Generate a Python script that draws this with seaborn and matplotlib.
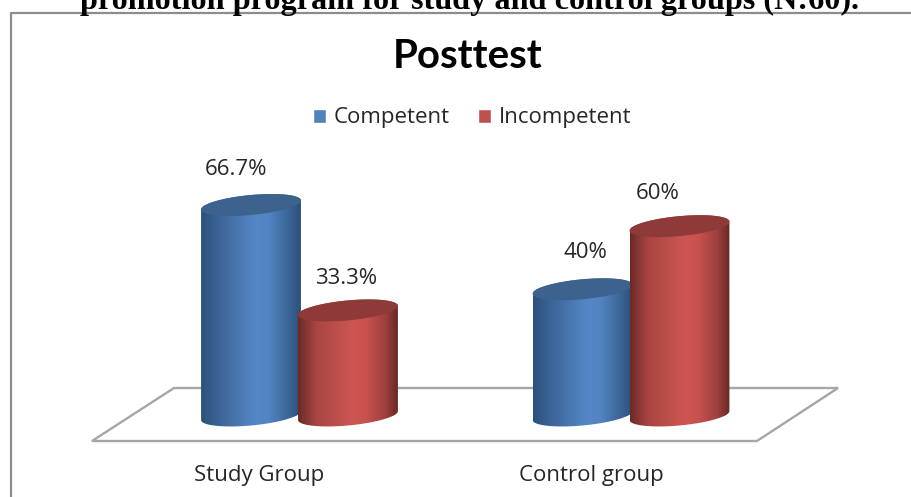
import numpy as np
import pandas as pd
import matplotlib
matplotlib.use("Agg")
import matplotlib.pyplot as plt
from matplotlib.colors import LinearSegmentedColormap
from matplotlib.patches import PathPatch, Polygon
from matplotlib.path import Path
from matplotlib.transforms import ScaledTranslation
import seaborn as sns

# Chart values
groups = ["Study Group", "Control group"]
levels = ["Competent", "Incompetent"]
competent = [66.7, 40]
incompetent = [33.3, 60]
value_labels = {66.7: "66.7%", 33.3: "33.3%", 40: "40%", 60: "60%"}

W, H = 911, 497
sns.set_theme(style="white")
plt.rcParams["font.family"] = ["Open Sans", "DejaVu Sans"]

fig = plt.figure(figsize=(W / 100, H / 100), dpi=100)

# Axes span the floor of the chart, in pixels of the figure
ax_l, ax_r, ax_b, ax_t = 92, 838, 441, 150
ax = fig.add_axes([ax_l / W, 1 - ax_b / H, (ax_r - ax_l) / W, (ax_b - ax_t) / H])

df = pd.DataFrame({
    "group": groups * 2,
    "level": [levels[0]] * 2 + [levels[1]] * 2,
    "value": competent + incompetent,
})
sns.barplot(data=df, x="group", y="value", hue="level", order=groups, hue_order=levels,
            palette=["#4f81bd", "#c0504d"], width=0.585, gap=0, saturation=1, ax=ax)

px_x, px_y = 331.5, 3.156   # pixels per data unit
x0_px, y0_px = 299.5, 415.5 # pixel position of the first group at value 0
xlim = ((ax_l - x0_px) / px_x, (ax_r - x0_px) / px_x)
ylim = ((y0_px - ax_b) / px_y, (y0_px - ax_t) / px_y)
ax.set_xlim(xlim)
ax.set_ylim(ylim)
for s in ax.spines.values():
    s.set_visible(False)
ax.set_xlabel("")
ax.set_ylabel("")
ax.set_yticks([])
ax.tick_params(axis="x", length=0, pad=17, labelsize=16, labelcolor="#262626")
shift = ScaledTranslation(-40 / 100, 0, fig.dpi_scale_trans)
for lab in ax.get_xticklabels():
    lab.set_transform(lab.get_transform() + shift)

# Floor of the chart
floor = Polygon([(0, 0), ((757 - ax_l) / (ax_r - ax_l), 0),
                 (1, (ax_b - 388) / (ax_b - ax_t)), ((174 - ax_l) / (ax_r - ax_l), (ax_b - 388) / (ax_b - ax_t))],
                closed=True, transform=ax.transAxes, fc="white", ec="#a6a6a6", lw=1.7,
                zorder=1, clip_on=False)
ax.add_patch(floor)

shades = {
    "#4f81bd": (["#2c5079", "#3c6597", "#5587c8", "#5283c2", "#3a6496", "#2d4f78"], "#3c628e"),
    "#c0504d": (["#6a2a28", "#a84543", "#cd5653", "#c9524f", "#9c3f3d", "#682826"], "#8e3a38"),
}
stops = [0, 0.18, 0.55, 0.68, 0.88, 1]

tilt = 4.5 / px_y   # rise of the ellipse towards its right side
minor = 10 / px_y   # half height of the ellipse
t = np.linspace(0, 2 * np.pi, 181)


def ring(cx, a, y):
    return cx + a * np.cos(t), y + minor * np.sin(t) + tilt * np.cos(t)


# Offsets of the value labels from the top of their bar, in pixels
label_offsets = [(-15, 35.5), (3, 36.5), (-2, 31.5), (-22, 33)]

bars = [p for p in ax.patches if p is not floor and p.get_height() > 0]
for i, bar in enumerate(bars):
    cx = bar.get_x() + bar.get_width() / 2
    a = bar.get_width() / 2 * 1.03
    h = bar.get_height()
    hexcol = matplotlib.colors.to_hex(bar.get_facecolor())
    side, lid = shades[hexcol]
    z = 3 + i

    # Side of the cylinder: lower half of the base ring, then the upper lid ring
    low = t[t >= np.pi]
    up = t[t <= np.pi]
    xs = np.r_[cx + a * np.cos(low), cx + a * np.cos(up)]
    ys = np.r_[minor * np.sin(low) + tilt * np.cos(low),
               h + minor * np.sin(up) + tilt * np.cos(up)]
    body = PathPatch(Path(np.c_[xs, ys]), fc="none", ec="none", transform=ax.transData)
    ax.add_patch(body)
    body.set_zorder(z)

    cmap = LinearSegmentedColormap.from_list("side", list(zip(stops, side)))
    im = ax.imshow(np.linspace(0, 1, 256)[None, :], cmap=cmap, aspect="auto",
                   extent=(cx - a, cx + a, -minor * 2, h + minor * 2), zorder=z + 0.1,
                   interpolation="bilinear")
    im.set_clip_path(body)

    bar.set_clip_path(body)
    bar.set_zorder(z)

    lx, ly = ring(cx, a, h)
    ax.fill(lx, ly, color=lid, lw=0, zorder=z + 0.2)

    ax.annotate(value_labels[h], (cx, h), xytext=label_offsets[i], textcoords="offset pixels",
                ha="center", va="center", fontsize=16, color="#262626", zorder=20,
                annotation_clip=False)

ax.set_xlim(xlim)
ax.set_ylim(ylim)

sns.move_legend(ax, "center", bbox_to_anchor=(472 / W, 1 - 118 / H),
                bbox_transform=fig.transFigure, ncol=2, title=None, frameon=False,
                fontsize=16, handlelength=0.6, handleheight=0.6, handletextpad=0.35,
                columnspacing=1.25, labelcolor="#262626")

# Caption of the page above the chart, partly cut by the page edge
fig.text(470 / W, 1 - 9 / H, "promotion program for study and control groups (N:60).",
         ha="center", va="baseline", fontsize=23.2, fontweight="bold", color="black",
         family=["Liberation Serif", "DejaVu Serif"])

# Chart frame, open at the bottom and right where the page ends
fig.add_artist(plt.Line2D([10.5 / W, 10.5 / W, 1], [0, 1 - 13 / H, 1 - 13 / H],
                          color="#8c8c8c", lw=1.6))

fig.text(467.5 / W, 1 - 57 / H, "Posttest", ha="center", va="center", fontsize=29,
         fontweight="bold", color="black", family=["Lato", "DejaVu Sans"])

fig.savefig("out.png", dpi=100, facecolor="white")
